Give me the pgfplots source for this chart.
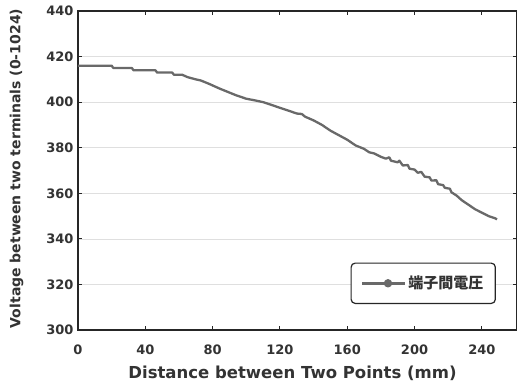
\documentclass[border=0pt]{standalone}
\usepackage{pgfplots}
\pgfplotsset{compat=1.18}
\usepackage{fontspec}
\setmainfont{DejaVu Sans}
\newfontfamily\cjk{Noto Sans CJK JP}[BoldFont=* Black]
\definecolor{curve}{RGB}{105,105,105}
\begin{document}
\begin{tikzpicture}
\useasboundingbox (-78pt,-59pt) rectangle (439pt,330pt);
\begin{axis}[
  scale only axis, width=439pt, height=319pt,
  at={(0pt,0pt)}, anchor=south west,
  xmin=0, xmax=260.9, ymin=300, ymax=440,
  xtick={0,40,...,240}, ytick={300,320,...,440},
  tick align=inside, major tick length=4pt,
  axis line style={line width=2pt, black!85},
  tick style={line width=1pt, black!85},
  ymajorgrids, grid style={gray!25, line width=0.5pt},
  ticklabel style={font=\fontsize{13}{15}\bfseries\selectfont, text=black!80},
  /pgf/number format/assume math mode=true,
  yticklabel style={xshift=-1pt},
  xticklabel style={yshift=-11pt},
  xlabel={Distance between Two Points (mm)},
  ylabel={Voltage between two terminals (0-1024)},
  xlabel style={font=\fontsize{16.5}{18}\bfseries\selectfont, text=black!80, yshift=-5pt, xshift=-5pt},
  ylabel style={font=\fontsize{14}{16}\bfseries\selectfont, text=black!80, yshift=16pt, xshift=2pt},
  legend style={at={(rel axis cs:0.952,0.0815)}, anchor=south east,
    draw=black!85, line width=1.2pt, rounded corners=4pt,
    font=\cjk\fontsize{15}{17}\bfseries\selectfont, text=black!80,
    inner xsep=10pt, inner ysep=11pt},
  legend image code/.code={
    \draw[#1, line width=2.5pt] (0cm,0cm) -- (1.5cm,0cm);
    \fill[curve] (0.9cm,0cm) circle (3pt);
  },
]
\addplot[curve, line width=2.3pt, line join=round] coordinates {
(0,416) (20,416) (21,415) (32,415) (33,414) (46,414) (47,413) (56,413)
(57,412) (62,412) (65,411) (70,410) (73,409.5) (78,408) (84,406) (89,404.5)
(94,403) (100,401.5) (105,400.8) (110,400) (115,398.8) (120,397.5) (125,396.3)
(130,395) (133,394.8) (135,393.6) (140,392) (145,390) (150,387.5) (155,385.5) (160,383.5)
(165,381) (170,379.5) (173,378) (176,377.5) (180,376) (183,375.2) (185,375.8)
(186,374.3) (190,373.6) (191,374.3) (193,372.2) (196,372.4) (197,370.8) (200,370.4)
(202,369) (204,369.4) (206,367.3) (209,367) (210,365.6) (213,365.7) (214,364)
(217,363.6) (218,362.4) (221,362) (222,360.4) (225,359) (228,357) (232,355)
(236,353) (240,351.5) (244,350) (248,349) (249,348.5)
};
\addlegendentry{端子間電圧}
\end{axis}
\end{tikzpicture}
\end{document}
